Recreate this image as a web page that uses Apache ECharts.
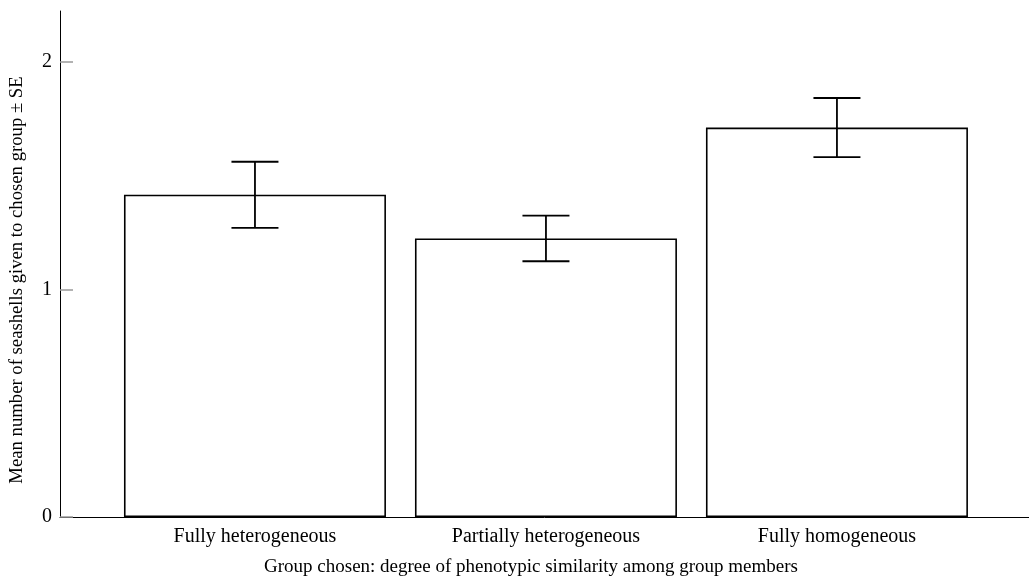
<!DOCTYPE html>
<html>
<head>
<meta charset="utf-8">
<script src="https://cdn.jsdelivr.net/npm/echarts@6/dist/echarts.min.js"></script>
<style>html,body{margin:0;padding:0;background:#fff}#c{width:1029px;height:584px}</style>
</head>
<body>
<div id="c"></div>
<script>
var categories = ['Fully heterogeneous', 'Partially heterogeneous', 'Fully homogeneous'];
var positions = [1, 2, 3];
var means = [1.415, 1.223, 1.710];
var se = [0.145, 0.100, 0.130];
var yTicks = [0, 1, 2];
var yTitle = 'Mean number of seashells given to chosen group \u00b1 SE';
var xTitle = 'Group chosen: degree of phenotypic similarity among group members';

var FONT = '"Liberation Serif", "Times New Roman", serif';
var chart = echarts.init(document.getElementById('c'));

var barData = positions.map(function (p, i) { return [p, means[i]]; });
var errData = positions.map(function (p, i) { return [p, means[i] - se[i], means[i] + se[i]]; });

chart.setOption({
  animation: false,
  backgroundColor: '#fff',
  grid: { left: 60, right: 0, top: 11, bottom: 67 },
  xAxis: {
    type: 'value', min: 0.33, max: 3.66,
    splitLine: { show: false },
    axisLine: { show: true, onZero: false, lineStyle: { color: '#000', width: 1 } },
    axisTick: { show: false },
    axisLabel: {
      customValues: positions,
      margin: 10,
      fontFamily: FONT, fontSize: 20, color: '#000',
      formatter: function (v) {
        var i = positions.indexOf(Math.round(v));
        return i >= 0 ? categories[i] : '';
      }
    }
  },
  yAxis: {
    type: 'value', min: 0, max: 2.222,
    splitLine: { show: false },
    axisLine: { show: true, lineStyle: { color: '#000', width: 1 } },
    axisTick: { show: true, inside: true, length: 13, customValues: yTicks, lineStyle: { color: '#999', width: 1.5 } },
    axisLabel: { customValues: yTicks, margin: 8, fontFamily: FONT, fontSize: 20, color: '#000' }
  },
  graphic: [
    {
      type: 'text', x: 17, y: 280, rotation: Math.PI / 2,
      style: { text: yTitle, fontFamily: FONT, fontSize: 18.7, fill: '#000', align: 'center', verticalAlign: 'middle' }
    },
    {
      type: 'text', x: 531, y: 567,
      style: { text: xTitle, fontFamily: FONT, fontSize: 19, fill: '#000', align: 'center', verticalAlign: 'middle' }
    }
  ],
  series: [
    {
      type: 'bar',
      data: barData,
      barWidth: 262,
      itemStyle: { color: '#fff', borderColor: '#000', borderWidth: 1.6 },
      z: 2
    },
    {
      type: 'custom',
      data: errData,
      z: 3,
      renderItem: function (params, api) {
        var x = api.value(0);
        var lo = api.coord([x, api.value(1)]);
        var hi = api.coord([x, api.value(2)]);
        var hw = 23.5;
        var st = { stroke: '#000', lineWidth: 1.8 };
        return {
          type: 'group',
          children: [
            { type: 'line', shape: { x1: hi[0], y1: hi[1], x2: lo[0], y2: lo[1] }, style: st },
            { type: 'line', shape: { x1: hi[0] - hw, y1: hi[1], x2: hi[0] + hw, y2: hi[1] }, style: st },
            { type: 'line', shape: { x1: lo[0] - hw, y1: lo[1], x2: lo[0] + hw, y2: lo[1] }, style: st }
          ]
        };
      }
    }
  ]
});
</script>
</body>
</html>
